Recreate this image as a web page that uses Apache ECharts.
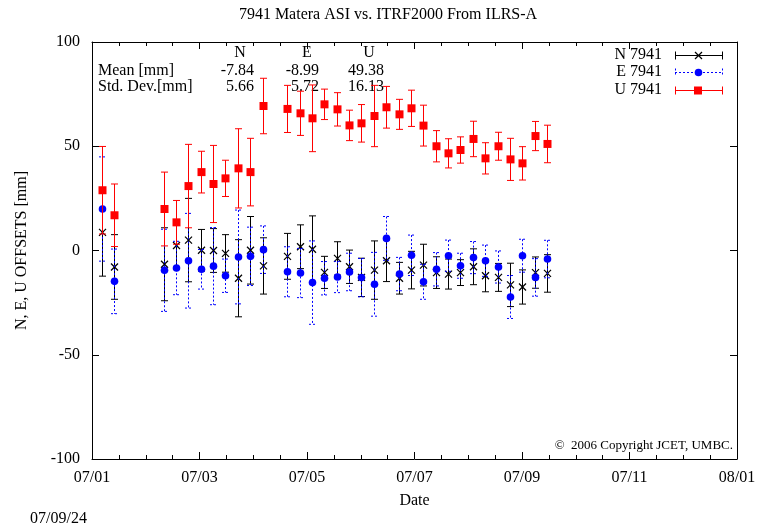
<!DOCTYPE html>
<html>
<head>
<meta charset="utf-8">
<script src="https://cdn.jsdelivr.net/npm/echarts@6/dist/echarts.min.js"></script>
<style>
  html, body { margin: 0; padding: 0; background: #fff; }
  #main { width: 764px; height: 532px; }
</style>
</head>
<body>
<div id="main"></div>
<script>
// weekly solution dates (2007)
const dates = [
  '2007-01-06', '2007-01-13', '2007-02-10', '2007-02-17', '2007-02-24', '2007-03-03',
  '2007-03-10', '2007-03-17', '2007-03-24', '2007-03-31', '2007-04-07', '2007-04-21',
  '2007-04-28', '2007-05-05', '2007-05-12', '2007-05-19', '2007-05-26', '2007-06-02',
  '2007-06-09', '2007-06-16', '2007-06-23', '2007-06-30', '2007-07-07', '2007-07-14',
  '2007-07-21', '2007-07-28', '2007-08-04', '2007-08-11', '2007-08-18', '2007-08-25',
  '2007-09-01', '2007-09-08', '2007-09-15'
];
const nVal = [8.7, -7.9, -6.6, 2.4, 5.0, 0.1, 0.0, -1.4, -13.3, 0.1, -7.4, -2.8,
  1.8, 0.6, -10.5, -3.8, -7.8, -12.9, -9.4, -4.9, -13.3, -9.4, -7.0, -10.6,
  -11.3, -10.6, -7.8, -12.1, -12.9, -16.5, -17.5, -10.6, -11.0];
const nErr = [21, 15.5, 17.5, 10.5, 20, 10, 10.5, 9, 18.5, 16.2, 13.5, 11,
  10.5, 16, 7.7, 8, 8, 9.2, 14, 10, 7.6, 9, 10, 7.6,
  7.2, 6.2, 8.6, 7.7, 6.7, 10.4, 8.2, 7.5, 9];
const eVal = [19.9, -14.8, -9.5, -8.4, -4.9, -9.0, -7.5, -12.1, -3.1, -2.8, 0.4, -10.2,
  -10.8, -15.4, -13.3, -12.7, -10.3, -13.0, -16.2, 5.8, -11.3, -2.3, -15.0, -9.0,
  -2.5, -7.3, -3.4, -4.9, -7.9, -22.3, -2.5, -12.9, -4.1];
const eErr = [25, 15.5, 19.7, 12.8, 22.7, 9.5, 18.5, 8, 22.5, 14, 11.4, 12,
  11.8, 20, 8, 7.5, 9, 9.2, 15.3, 10.5, 8, 9.7, 8.4, 8,
  7.5, 6, 7.7, 7.5, 7.7, 10.3, 7.9, 9, 9];
const uVal = [28.9, 16.9, 19.9, 13.5, 30.9, 37.6, 31.9, 34.6, 39.4, 37.6, 69.3, 67.9,
  65.8, 63.4, 70.1, 67.7, 60.0, 61.0, 64.5, 68.7, 65.3, 68.2, 59.9, 50.0,
  46.6, 48.2, 53.5, 44.2, 50.0, 43.7, 41.8, 54.9, 51.1];
const uErr = [21, 15, 17.7, 10.5, 20, 10, 18.5, 8.7, 19, 16.2, 13.3, 11.3,
  10.6, 16, 7.3, 8, 7.3, 9, 14.7, 10, 7.2, 8.7, 9.8, 7.5,
  7, 6.3, 8.5, 7.5, 6.7, 10.1, 8, 7, 9];

const xTickLabels = ['07/01', '07/03', '07/05', '07/07', '07/09', '07/11', '08/01'];
const statHeads = ['N', 'E', 'U'];
const meanVals = ['-7.84', '-8.99', '49.38'];
const stdVals = ['5.66', '5.72', '16.13'];
const seriesNames = ['N 7941', 'E 7941', 'U 7941'];

const FONT = '"Liberation Serif", "Times New Roman", serif';
const RED = '#ff0000', BLUE = '#0000ff', BLACK = '#000000';

// date -> months since 2007-01-01 (noon)
function toMonths(s) {
  const p = s.split('-').map(Number);
  const days = (Date.UTC(p[0], p[1] - 1, p[2]) - Date.UTC(2007, 0, 1)) / 86400000 + 0.5;
  return days / 365 * 12;
}

function build(vals, errs) {
  return dates.map((d, i) => [toMonths(d), vals[i], errs[i]]);
}

// error bar with caps + marker
function errRenderer(color, dash, marker) {
  return function (params, api) {
    const x = api.value(0), y = api.value(1), e = api.value(2);
    const c = api.coord([x, y]);
    const t = api.coord([x, y + e]);
    const b = api.coord([x, y - e]);
    const px = Math.round(c[0]) + 0.5;
    const cap = 3.5;
    const ls = { stroke: color, lineWidth: 1, lineDash: dash };
    const kids = [
      { type: 'line', shape: { x1: px, y1: t[1], x2: px, y2: b[1] }, style: ls },
      { type: 'line', shape: { x1: px - cap, y1: t[1], x2: px + cap, y2: t[1] }, style: ls },
      { type: 'line', shape: { x1: px - cap, y1: b[1], x2: px + cap, y2: b[1] }, style: ls }
    ];
    if (marker === 'square') {
      kids.push({ type: 'rect', shape: { x: px - 4, y: c[1] - 4, width: 8, height: 8 }, style: { fill: color } });
    } else if (marker === 'circle') {
      kids.push({ type: 'circle', shape: { cx: px, cy: c[1], r: 3.8 }, style: { fill: color } });
    } else {
      const s = 3.5;
      kids.push({ type: 'line', shape: { x1: px - s, y1: c[1] - s, x2: px + s, y2: c[1] + s }, style: { stroke: color, lineWidth: 1.2 } });
      kids.push({ type: 'line', shape: { x1: px - s, y1: c[1] + s, x2: px + s, y2: c[1] - s }, style: { stroke: color, lineWidth: 1.2 } });
    }
    return { type: 'group', children: kids };
  };
}

// legend samples drawn as graphic
function legendRow(y, label, color, dash, marker) {
  const x1 = 675, x2 = 722, xm = 698;
  const ls = { stroke: color, lineWidth: 1, lineDash: dash };
  const els = [
    { type: 'text', x: 662, y: y, style: { text: label, font: '16px ' + FONT, fill: BLACK, align: 'right', verticalAlign: 'middle' } },
    { type: 'line', shape: { x1: x1, y1: y + 0.5, x2: x2, y2: y + 0.5 }, style: ls },
    { type: 'line', shape: { x1: x1 + 0.5, y1: y - 3.5, x2: x1 + 0.5, y2: y + 4.5 }, style: ls },
    { type: 'line', shape: { x1: x2 + 0.5, y1: y - 3.5, x2: x2 + 0.5, y2: y + 4.5 }, style: ls }
  ];
  if (marker === 'square') {
    els.push({ type: 'rect', shape: { x: xm - 4, y: y - 3.5, width: 8, height: 8 }, style: { fill: color } });
  } else if (marker === 'circle') {
    els.push({ type: 'circle', shape: { cx: xm + 0.5, cy: y + 0.5, r: 3.8 }, style: { fill: color } });
  } else {
    els.push({ type: 'line', shape: { x1: xm - 3, y1: y - 3, x2: xm + 4, y2: y + 4 }, style: { stroke: color, lineWidth: 1.2 } });
    els.push({ type: 'line', shape: { x1: xm - 3, y1: y + 4, x2: xm + 4, y2: y - 3 }, style: { stroke: color, lineWidth: 1.2 } });
  }
  return els;
}

const txt = (text, x, y, align, size) => ({
  type: 'text', x: x, y: y,
  style: { text: text, font: (size || 16) + 'px ' + FONT, fill: BLACK, align: align || 'left', verticalAlign: 'middle' }
});

const statColX = [254, 319, 384];
const statHeadX = [240, 307, 369];
const graphics = [
  txt('7941 Matera ASI vs. ITRF2000 From ILRS-A', 388, 15, 'center'),
  txt(statHeads[0], statHeadX[0], 53, 'center'),
  txt(statHeads[1], statHeadX[1], 53, 'center'),
  txt(statHeads[2], statHeadX[2], 53, 'center'),
  txt('Mean [mm]', 98, 71),
  txt('Std. Dev.[mm]', 98, 87),
  txt('\u00A9  2006 Copyright JCET, UMBC.', 733, 446, 'right', 13),
  txt('07/09/24', 30, 519)
];
for (let i = 0; i < 3; i++) {
  graphics.push(txt(meanVals[i], statColX[i], 71, 'right'));
  graphics.push(txt(stdVals[i], statColX[i], 87, 'right'));
}
graphics.push(...legendRow(55, seriesNames[0], BLACK, null, 'cross'));
graphics.push(...legendRow(72, seriesNames[1], BLUE, [2, 2], 'circle'));
graphics.push(...legendRow(90, seriesNames[2], RED, null, 'square'));

const axisBase = {
  axisLine: { show: true, onZero: false, lineStyle: { color: BLACK, width: 1 } },
  splitLine: { show: false }
};

const option = {
  animation: false,
  backgroundColor: '#fff',
  grid: { left: 92, right: 27, top: 42, bottom: 73 },
  xAxis: [
    Object.assign({}, axisBase, {
      type: 'value', min: 0, max: 12, interval: 2, position: 'bottom',
      axisTick: { inside: true, length: 7, lineStyle: { color: BLACK } },
      minorTick: { show: true, splitNumber: 4, length: 4, lineStyle: { color: BLACK } },
      axisLabel: {
        color: BLACK, fontFamily: FONT, fontSize: 16, margin: 11,
        formatter: v => xTickLabels[Math.round(v / 2)]
      },
      name: 'Date', nameLocation: 'middle', nameGap: 34,
      nameTextStyle: { color: BLACK, fontFamily: FONT, fontSize: 16 }
    }),
    Object.assign({}, axisBase, {
      type: 'value', min: 0, max: 12, interval: 2, position: 'top',
      axisTick: { inside: true, length: 7, lineStyle: { color: BLACK } },
      minorTick: { show: true, splitNumber: 4, length: 4, lineStyle: { color: BLACK } },
      axisLabel: { show: false }
    })
  ],
  yAxis: [
    Object.assign({}, axisBase, {
      type: 'value', min: -100, max: 100, interval: 50, position: 'left',
      axisTick: { inside: true, length: 7, lineStyle: { color: BLACK } },
      axisLabel: { color: BLACK, fontFamily: FONT, fontSize: 16, margin: 12 },
      name: 'N, E, U OFFSETS [mm]', nameLocation: 'middle', nameGap: 62, nameRotate: 90,
      nameTextStyle: { color: BLACK, fontFamily: FONT, fontSize: 16 }
    }),
    Object.assign({}, axisBase, {
      type: 'value', min: -100, max: 100, interval: 50, position: 'right',
      axisTick: { inside: true, length: 7, lineStyle: { color: BLACK } },
      axisLabel: { show: false }
    })
  ],
  graphic: graphics,
  series: [
    { name: seriesNames[0], type: 'custom', xAxisIndex: 0, yAxisIndex: 0, renderItem: errRenderer(BLACK, null, 'cross'), data: build(nVal, nErr), z: 3 },
    { name: seriesNames[1], type: 'custom', xAxisIndex: 0, yAxisIndex: 0, renderItem: errRenderer(BLUE, [2, 2], 'circle'), data: build(eVal, eErr), z: 4 },
    { name: seriesNames[2], type: 'custom', xAxisIndex: 0, yAxisIndex: 0, renderItem: errRenderer(RED, null, 'square'), data: build(uVal, uErr), z: 5 }
  ]
};

const chart = echarts.init(document.getElementById('main'));
chart.setOption(option);
</script>
</body>
</html>
